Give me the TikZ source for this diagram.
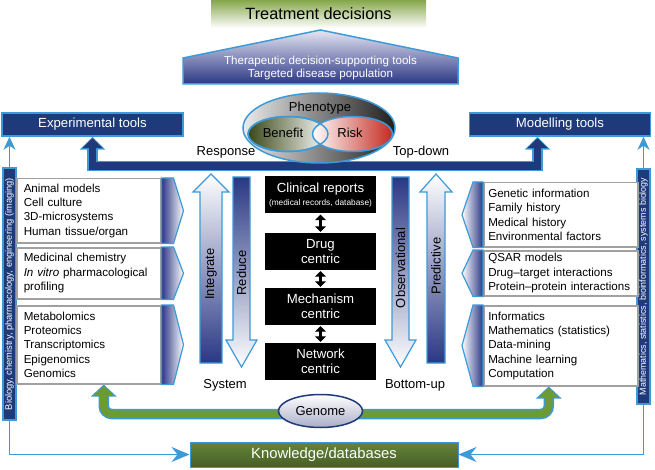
\documentclass[tikz,border=0pt]{standalone}
\usepackage{fontspec}
\setmainfont{Liberation Sans}
\usetikzlibrary{arrows.meta,shapes.geometric}
\definecolor{navy}{HTML}{1E3A7A}
\definecolor{lblue}{HTML}{3C9BD7}
\definecolor{gradblue}{HTML}{2A3784}
\definecolor{housetop}{HTML}{E6E6F2}
\definecolor{treatg}{HTML}{86A64A}
\definecolor{olive}{HTML}{465F25}
\definecolor{oliveT}{HTML}{66843C}
\definecolor{greenarr}{HTML}{6E9A34}
\definecolor{benefitc}{HTML}{3A4818}
\definecolor{riskc}{HTML}{C42A20}
\definecolor{graybord}{HTML}{A0A0A0}
\definecolor{genomeb}{HTML}{ABADC8}
\newcommand\fs[2]{\fontsize{#1}{#2}\selectfont}
\pgfdeclarelayer{back}
\pgfdeclarelayer{bg}
\pgfsetlayers{back,bg,main}
\begin{document}
\begin{tikzpicture}[x=1pt,y=-1pt,
  toolbox/.style={draw=lblue,line width=1.5pt,fill=navy,text=white,font=\fs{13.2}{15},minimum width=181pt,minimum height=23pt,inner sep=0pt},
  barbox/.style={draw=lblue,line width=1.2pt,fill=navy,minimum width=13pt,inner sep=0pt},
  bartext/.style={rotate=90,text=white,inner sep=0pt},
  panel/.style={draw=graybord,line width=1.5pt,fill=white,align=left,font=\fs{11.6}{14.3},inner ysep=0pt,anchor=north west},
  chev/.style={draw=lblue,line width=1.2pt},
  blk/.style={fill=black,text=white,align=center,font=\fs{13.2}{15},minimum width=111pt,minimum height=37pt,inner sep=0pt},
  dbl/.style={line width=3.5pt,{Triangle[length=5.5pt,width=11pt]}-{Triangle[length=5.5pt,width=11pt]},shorten <=1pt,shorten >=1pt},
  lbl/.style={font=\fs{13}{15},inner sep=0pt},
  thinarr/.style={draw=lblue,line width=1.6pt,-{Stealth[length=13pt,width=12pt,inset=4pt]}},
  thinarrb/.style={draw=lblue,line width=1.6pt,-{Stealth[length=18pt,width=15pt,inset=6pt]}},
  fatarrow/.style={draw=lblue,line width=1.2pt},
  ell/.style={ellipse,draw=lblue,line width=1.5pt,inner sep=0pt},
]
\begin{pgfonlayer}{back}
\fill[white] (0,0) rectangle (655,470);
\end{pgfonlayer}
\path[use as bounding box] (0,0) rectangle (655,470);

% top
\node[minimum width=215pt,minimum height=28pt,top color=treatg,bottom color=white,font=\fs{16.3}{18},inner sep=0pt] (treat) at (318.5,14) {Treatment decisions};
\path[draw=lblue,line width=1.5pt,top color=housetop,bottom color=gradblue] (183,84) -- (183,58) -- (320.5,30) -- (458,58) -- (458,84) -- cycle;
\node[text=white,font=\fs{11.6}{13},align=center,inner sep=0pt] (house) at (320.5,68.5) {Therapeutic decision-supporting tools\\Targeted disease population};

% tools
\node[toolbox] (exp) at (92.5,124.5) {Experimental tools};
\node[toolbox] (mod) at (560,124.5) {Modelling tools};

% phenotype
\node[ell,left color=black!8,right color=black!88,minimum width=152pt,minimum height=70pt] (pheno) at (319,128) {};
\node[lbl] (phenot) at (320,108) {Phenotype};
\node[ell,left color=benefitc,right color=white,minimum width=80pt,minimum height=35pt] (ben) at (288,134) {};
\node[ell,left color=white,right color=riskc,minimum width=80pt,minimum height=35pt] (risk) at (352.5,134) {};
\node[ell,minimum width=80pt,minimum height=35pt] (benline) at (ben.center) {};
\node[lbl] (bent) at (283,133) {Benefit};
\node[lbl] (riskt) at (350,133) {Risk};
\node[lbl] (resp) at (226,152) {Response};
\node[lbl] (topd) at (421,152) {Top-down};

% side bars
\node[barbox,minimum height=252pt] (lbar) at (9.5,294) {};
\node[bartext,font=\fs{9.3}{10}] (lbart) at (lbar.center) {Biology, chemistry, pharmacology, engineering (imaging)};
\node[barbox,minimum height=235pt] (rbar) at (643.5,286.5) {};
\node[bartext,font=\fs{8.9}{10}] (rbart) at (rbar.center) {Mathematics, statistics, bioinformatics, systems biology};

% left panels
\node[panel,text width=130pt,inner xsep=7pt,minimum height=64pt] (lbox1) at (16,178) {Animal models\\Cell culture\\3D-microsystems\\Human tissue/organ};
\node[panel,text width=130pt,inner xsep=7pt,minimum height=51pt] (lbox2) at (16,247) {Medicinal chemistry\\\textit{In vitro} pharmacological\\profiling};
\node[panel,text width=130pt,inner xsep=7pt,minimum height=78pt] (lbox3) at (16,305) {Metabolomics\\Proteomics\\Transcriptomics\\Epigenomics\\Genomics};
\foreach \b in {lbox1,lbox2,lbox3}{
  \path[chev,left color=gradblue,middle color=gradblue!35,right color=white] (\b.north east) -- ++(12,0) -- ([xshift=22pt]\b.east) -- ([xshift=12pt]\b.south east) -- (\b.south east) -- cycle;
}

% right panels
\node[panel,text width=145pt,inner xsep=4.5pt,minimum height=64pt] (rbox1) at (483,182) {Genetic information\\Family history\\Medical history\\Environmental factors};
\node[panel,text width=145pt,inner xsep=4.5pt,minimum height=45pt] (rbox2) at (483,250) {QSAR models\\Drug--target interactions\\Protein--protein interactions};
\node[panel,text width=145pt,inner xsep=4.5pt,minimum height=80pt] (rbox3) at (483,305) {Informatics\\Mathematics (statistics)\\Data-mining\\Machine learning\\Computation};
\foreach \b in {rbox1,rbox2,rbox3}{
  \path[chev,left color=white,middle color=gradblue!35,right color=gradblue] (\b.north west) -- ++(-10,0) -- ([xshift=-21pt]\b.west) -- ([xshift=-10pt]\b.south west) -- (\b.south west) -- cycle;
}

% vertical fat arrows
\path[fatarrow,top color=white,bottom color=gradblue] (200,363) -- (200,192) -- (193,192) -- (211,174) -- (229,192) -- (222,192) -- (222,363) -- cycle;
\path[fatarrow,top color=gradblue,bottom color=white] (233,177) -- (250,177) -- (250,340) -- (257,340) -- (241.5,367) -- (226,340) -- (233,340) -- cycle;
\path[fatarrow,top color=gradblue,bottom color=white] (392,177) -- (409,177) -- (409,340) -- (416,340) -- (400.5,367) -- (385,340) -- (392,340) -- cycle;
\path[fatarrow,top color=white,bottom color=gradblue] (427,363) -- (427,192) -- (420,192) -- (436,174) -- (452,192) -- (445,192) -- (445,363) -- cycle;
\node[lbl,rotate=90] (integ) at (211,274) {Integrate};
\node[lbl,rotate=90] (reduce) at (241.5,273) {Reduce};
\node[lbl,rotate=90] (obs) at (400.5,268) {Observational};
\node[lbl,rotate=90] (pred) at (436,266) {Predictive};
\node[lbl] (sys) at (225,385) {System};
\node[lbl] (botu) at (415,385) {Bottom-up};

% centre column
\node[blk] (clin) at (320.5,195) {Clinical reports\\[-2pt]{\fs{8.3}{9}(medical records, database)}};
\node[blk] (drug) at (320.5,251.5) {Drug\\centric};
\node[blk] (mech) at (320.5,306.5) {Mechanism\\centric};
\node[blk] (net) at (320.5,361.5) {Network\\centric};
\draw[dbl] (clin) -- (drug);
\draw[dbl] (drug) -- (mech);
\draw[dbl] (mech) -- (net);

% genome and knowledge
\node[ellipse,draw=navy,line width=1.5pt,top color=white,bottom color=genomeb,minimum width=84pt,minimum height=33pt,inner sep=0pt,font=\fs{13}{15}] (genome) at (320.5,411) {Genome};
\node[draw=lblue,line width=1pt,top color=oliveT,bottom color=olive,text=white,font=\fs{14.8}{16},minimum width=268pt,minimum height=25pt,inner sep=0pt] (know) at (324,454.5) {Knowledge/databases};

\begin{pgfonlayer}{bg}
% big blue arrow
\draw[lblue,line width=10.5pt,-{Triangle[length=13pt,width=25pt]}] ([yshift=-2.5pt]pheno.south) -| (exp.south);
\draw[lblue,line width=10.5pt,-{Triangle[length=13pt,width=25pt]}] ([yshift=-2.5pt]pheno.south) -| ([xshift=-22.5pt]mod.south);
\draw[navy,line width=7.5pt,-{Triangle[length=10pt,width=20pt]},shorten >=1.5pt] ([yshift=-2.5pt]pheno.south) -| (exp.south);
\draw[navy,line width=7.5pt,-{Triangle[length=10pt,width=20pt]},shorten >=1.5pt] ([yshift=-2.5pt]pheno.south) -| ([xshift=-22.5pt]mod.south);
% green arrow
\draw[lblue,line width=10.5pt,rounded corners=8pt,-{Triangle[length=12pt,width=25pt]}] ([yshift=-3pt]genome.center) -| ([xshift=15pt]lbox3.south);
\draw[lblue,line width=10.5pt,rounded corners=8pt,-{Triangle[length=12pt,width=25pt]}] ([yshift=-3pt]genome.center) -| ([xshift=-12pt]rbox3.south);
\draw[greenarr,line width=7.5pt,rounded corners=8pt,-{Triangle[length=9.5pt,width=20pt]},shorten >=1.5pt] ([yshift=-3pt]genome.center) -| ([xshift=15pt]lbox3.south);
\draw[greenarr,line width=7.5pt,rounded corners=8pt,-{Triangle[length=9.5pt,width=20pt]},shorten >=1.5pt] ([yshift=-3pt]genome.center) -| ([xshift=-12pt]rbox3.south);
% thin connectors
\draw[thinarr] (lbar.north) -- (lbar.north |- exp.south);
\draw[thinarr] (rbar.north) -- (rbar.north |- mod.south);
\draw[thinarrb] (lbar.south) |- (know.west);
\draw[thinarrb] (rbar.south) |- (know.east);
\end{pgfonlayer}
\end{tikzpicture}
\end{document}
